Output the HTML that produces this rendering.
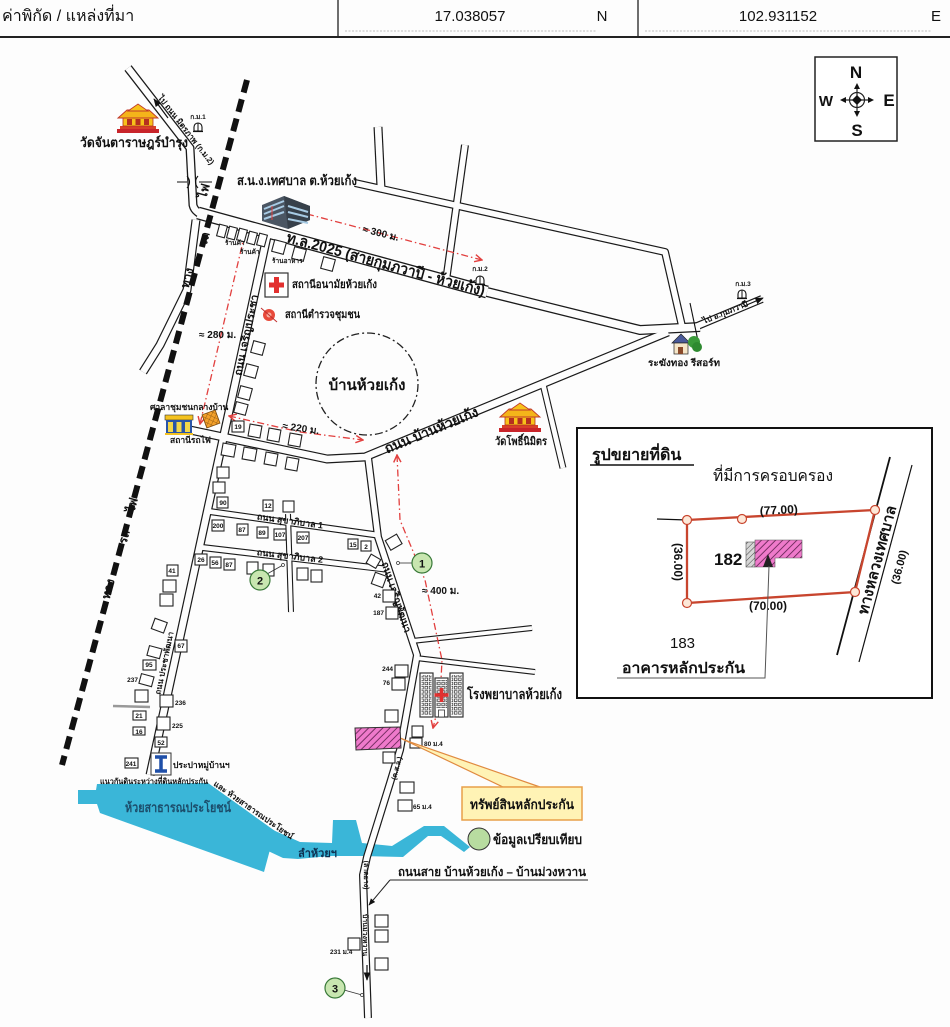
<!DOCTYPE html>
<html><head><meta charset="utf-8">
<style>
html,body{margin:0;padding:0;background:#fdfdfd;}
svg{display:block;}
text{font-family:"Liberation Sans","DejaVu Sans",sans-serif;fill:#111;}
.b{font-weight:bold;}
.h{fill:#fff;stroke:#222;stroke-width:1.1;}
.n{font-size:6.5px;text-anchor:middle;font-weight:bold;}
.rk{fill:none;stroke:#1a1a1a;stroke-linejoin:round;}
.rw{fill:none;stroke:#fdfdfd;stroke-linejoin:round;}
.red{fill:none;stroke:#e2403f;stroke-width:1.3;stroke-dasharray:7,3,1.5,3;}
</style></head><body>
<svg width="950" height="1027" viewBox="0 0 950 1027" xmlns="http://www.w3.org/2000/svg">
<defs>
<marker id="ra" viewBox="0 0 10 10" refX="9" refY="5" markerWidth="7" markerHeight="7" orient="auto-start-reverse"><path d="M1,1 L9,5 L1,9" fill="none" stroke="#e2403f" stroke-width="1.6"/></marker>
<marker id="ba" viewBox="0 0 10 10" refX="9" refY="5" markerWidth="7" markerHeight="7" orient="auto"><path d="M0,1 L10,5 L0,9 Z" fill="#111"/></marker>
<pattern id="pink" patternUnits="userSpaceOnUse" width="5" height="5" patternTransform="rotate(45)"><rect width="5" height="5" fill="#ef7acb"/><line x1="0" y1="0" x2="0" y2="5" stroke="#5a1d4a" stroke-width="1.6"/></pattern>
<pattern id="grey" patternUnits="userSpaceOnUse" width="4" height="4" patternTransform="rotate(45)"><rect width="4" height="4" fill="#d6d6d6"/><line x1="0" y1="0" x2="0" y2="4" stroke="#444" stroke-width="1"/></pattern>
<pattern id="org" patternUnits="userSpaceOnUse" width="4" height="4" patternTransform="rotate(45)"><rect width="4" height="4" fill="#f3a02a"/><line x1="0" y1="0" x2="0" y2="4" stroke="#7a4a10" stroke-width="0.7"/><line x1="0" y1="0" x2="4" y2="0" stroke="#7a4a10" stroke-width="0.7"/></pattern>
<pattern id="win" patternUnits="userSpaceOnUse" width="4.2" height="4.2"><rect x="0.8" y="0.8" width="2.6" height="2.6" fill="none" stroke="#333" stroke-width="0.7"/></pattern>
<g id="temple">
<rect x="0" y="24" width="42" height="4" fill="#c8242a"/>
<rect x="3" y="21" width="36" height="3" fill="#d8402a"/>
<rect x="6" y="12" width="30" height="9" fill="#f7c21a" stroke="#b5301f" stroke-width="0.8"/>
<rect x="10" y="14" width="5" height="6" fill="#b5301f"/><rect x="18.5" y="14" width="5" height="6" fill="#b5301f"/><rect x="27" y="14" width="5" height="6" fill="#b5301f"/>
<polygon points="1,13 10,5 32,5 41,13" fill="#f4b41a" stroke="#c0392b" stroke-width="0.9"/>
<polygon points="11,6 21,-1 31,6" fill="#f7c21a" stroke="#c0392b" stroke-width="0.9"/>
</g>
<g id="km"><path d="M-4,5 L-4,1 A4,4 0 0 1 4,1 L4,5 Z" fill="#fff" stroke="#111" stroke-width="1.1"/><line x1="0" y1="-3" x2="0" y2="5" stroke="#111" stroke-width="1"/><line x1="-5" y1="5.5" x2="5" y2="5.5" stroke="#111" stroke-width="1.2"/></g>
</defs>
<rect width="950" height="1027" fill="#fdfdfd"/>

<!-- header -->
<text x="2" y="21" font-size="16">ค่าพิกัด / แหล่งที่มา</text>
<line x1="338" y1="0" x2="338" y2="37" stroke="#222" stroke-width="1.3"/>
<line x1="638" y1="0" x2="638" y2="37" stroke="#222" stroke-width="1.3"/>
<line x1="0" y1="37" x2="950" y2="37" stroke="#222" stroke-width="2"/>
<text x="470" y="21" font-size="15" text-anchor="middle">17.038057</text>
<text x="602" y="21" font-size="15" text-anchor="middle">N</text>
<line x1="345" y1="31" x2="597" y2="31" stroke="#aaa" stroke-width="0.8" stroke-dasharray="2,1.5"/>
<text x="778" y="21" font-size="15" text-anchor="middle">102.931152</text>
<text x="936" y="21" font-size="15" text-anchor="middle">E</text>
<line x1="645" y1="31" x2="932" y2="31" stroke="#aaa" stroke-width="0.8" stroke-dasharray="2,1.5"/>

<!-- compass -->
<rect x="815" y="57" width="82" height="84" fill="#fff" stroke="#222" stroke-width="1.5"/>
<text x="856" y="78" font-size="17" class="b" text-anchor="middle">N</text>
<text x="857" y="136" font-size="17" class="b" text-anchor="middle">S</text>
<text x="826" y="106" font-size="15" class="b" text-anchor="middle">W</text>
<text x="889" y="106" font-size="17" class="b" text-anchor="middle">E</text>
<circle cx="857" cy="100" r="7.5" fill="none" stroke="#222" stroke-width="1.2"/>
<line x1="843" y1="100" x2="871" y2="100" stroke="#222" stroke-width="1.2"/>
<line x1="857" y1="86" x2="857" y2="114" stroke="#222" stroke-width="1.2"/>
<polygon points="857,83 854,89 860,89" fill="#111"/><polygon points="857,117 854,111 860,111" fill="#111"/>
<polygon points="840,100 846,97 846,103" fill="#111"/><polygon points="874,100 868,97 868,103" fill="#111"/>
<polygon points="857,95 862,100 857,105 852,100" fill="#111"/>

<!-- water -->
<polygon points="78,790 96,790 97,784 208,783 275,831 264,872 100,813 97,804 78,804" fill="#3ab6d8"/>
<polygon points="273,830 300,842 332,843 333,820 356,820 362,843 392,846 424,826 444,826 470,847 464,852 441,836 428,836 403,857 362,856 330,856 298,859 283,858 266,850" fill="#3ab6d8"/>

<!-- roads black -->
<g class="rk">
<path d="M128,68 L190,148 L193,205 Q195,214 210,217" stroke-width="9"/>
<path d="M198,213 L487,292" stroke-width="13"/>
<path d="M487,292 L640,330 L700,327" stroke-width="10"/>
<path d="M355,183 L665,252 L682,326" stroke-width="8"/>
<path d="M378,127 L381,188" stroke-width="9"/>
<path d="M465,145 L446,281" stroke-width="8"/>
<path d="M695,327 L762,299" stroke-width="8"/>
<path d="M190,430 L327,459 L365,457 L668,332" stroke-width="9"/>
<path d="M543,384 L563,468" stroke-width="7"/>
<path d="M196,220 L187,290 L160,345 L143,372" stroke-width="9"/>
<path d="M268,232 L150,775" stroke-width="9"/>
<path d="M368,457 L378,537 L417,655 L400,750 L390,783 L367,857 L363,875 L368,1018" stroke-width="8"/>
<path d="M412,641 L532,628" stroke-width="6"/>
<path d="M416,658 L535,672" stroke-width="6"/>
<path d="M206,511 L377,535" stroke-width="7"/>
<path d="M198,547 L385,569" stroke-width="7"/>
<path d="M288,514 L291,612" stroke-width="6"/>
</g>
<g class="rw">
<path d="M128,68 L190,148 L193,205 Q195,214 210,217" stroke-width="6.4"/>
<path d="M198,213 L487,292" stroke-width="10.4"/>
<path d="M487,292 L640,330 L700,327" stroke-width="7.4"/>
<path d="M355,183 L665,252 L682,326" stroke-width="5.6"/>
<path d="M378,127 L381,188" stroke-width="6.6"/>
<path d="M465,145 L446,281" stroke-width="5.6"/>
<path d="M695,327 L762,299" stroke-width="5.6"/>
<path d="M190,430 L327,459 L365,457 L668,332" stroke-width="6.6"/>
<path d="M543,384 L563,468" stroke-width="4.8"/>
<path d="M196,220 L187,290 L160,345 L143,372" stroke-width="6.6"/>
<path d="M268,232 L150,775" stroke-width="6.6"/>
<path d="M368,457 L378,537 L417,655 L400,750 L390,783 L367,857 L363,875 L368,1018" stroke-width="5.6"/>
<path d="M412,641 L532,628" stroke-width="3.8"/>
<path d="M416,658 L535,672" stroke-width="3.8"/>
<path d="M206,511 L377,535" stroke-width="4.8"/>
<path d="M198,547 L385,569" stroke-width="4.8"/>
<path d="M288,514 L291,612" stroke-width="3.8"/>
</g>
<line x1="113" y1="706" x2="150" y2="707" stroke="#999" stroke-width="2.5"/>
<!-- bridge marks -->
<path d="M177,182 L187,182 M199,182 L212,182 M187,176 Q192,182 187,188 M198,176 Q193,182 198,188" fill="none" stroke="#111" stroke-width="1.1"/>
<path d="M690,303 L698,341" fill="none" stroke="#111" stroke-width="1.1"/>
<!-- road arrows -->
<line x1="168" y1="118" x2="154" y2="99" stroke="#111" stroke-width="1.2" marker-end="url(#ba)"/>
<line x1="742" y1="307" x2="763" y2="298" stroke="#111" stroke-width="1.2" marker-end="url(#ba)"/>
<line x1="367" y1="965" x2="367" y2="980" stroke="#111" stroke-width="1.2" marker-end="url(#ba)"/>

<!-- railway -->
<line x1="247" y1="80" x2="62" y2="765" stroke="#111" stroke-width="6" stroke-dasharray="13,7"/>
<g class="b" font-size="12">
<text transform="translate(208,192) rotate(-75)" text-anchor="middle">ไฟ</text>
<text transform="translate(208,240) rotate(-75)" text-anchor="middle">รถ</text>
<text transform="translate(191,279) rotate(-75)" text-anchor="middle">ทาง</text>
<text transform="translate(136,506) rotate(-75)" text-anchor="middle">ไฟ</text>
<text transform="translate(128,538) rotate(-75)" text-anchor="middle">รถ</text>
<text transform="translate(112,590) rotate(-75)" text-anchor="middle">ทาง</text>
</g>

<!-- village circle -->
<circle cx="367" cy="384" r="51" fill="none" stroke="#222" stroke-width="1.3" stroke-dasharray="8,3,2,3"/>
<text x="367" y="390" font-size="15" class="b" text-anchor="middle">บ้านห้วยเก้ง</text>

<!-- red distance arrows -->
<path class="red" d="M307,214 L482,260" marker-end="url(#ra)"/>
<path class="red" d="M245,233 L200,424" marker-end="url(#ra)"/>
<path class="red" d="M229,416 L300,432 L363,440" marker-start="url(#ra)" marker-end="url(#ra)"/>
<path class="red" d="M397,455 L400,520 L425,580 L442,660 L440,700 L433,728" marker-start="url(#ra)" marker-end="url(#ra)"/>
<text transform="translate(362,232) rotate(14)" font-size="10" class="b">≈ 300 ม.</text>
<text x="199" y="338" font-size="10" class="b">≈ 280 ม.</text>
<text transform="translate(282,429) rotate(8)" font-size="10" class="b">≈ 220 ม.</text>
<text x="422" y="594" font-size="10" class="b">≈ 400 ม.</text>

<!-- temples -->
<use href="#temple" x="117" y="105"/>
<text x="80" y="147" font-size="13" class="b" textLength="108" lengthAdjust="spacingAndGlyphs">วัดจันตาราษฎร์บำรุง</text>
<use href="#temple" x="499" y="404"/>
<text x="495" y="445" font-size="11" class="b" textLength="52" lengthAdjust="spacingAndGlyphs">วัดโพธิ์นิมิตร</text>

<!-- km markers -->
<text x="198" y="119" font-size="6.5" class="b" text-anchor="middle">ก.ม.1</text><use href="#km" x="198" y="126"/>
<text x="480" y="271" font-size="6.5" class="b" text-anchor="middle">ก.ม.2</text><use href="#km" x="480" y="279"/>
<text x="743" y="286" font-size="6.5" class="b" text-anchor="middle">ก.ม.3</text><use href="#km" x="742" y="293"/>

<!-- municipal office -->
<g transform="translate(262,196)">
<polygon points="0,9 22,0 48,10 48,24 26,33 0,25" fill="#4b5663"/>
<polygon points="22,0 48,10 48,24 26,33" fill="#37404a"/>
<path d="M2,13 L22,5 M2,18 L22,10 M2,23 L22,16 M26,10 L46,16 M26,16 L46,21 M26,23 L46,27" stroke="#a8cbe4" stroke-width="2"/>
<line x1="10" y1="10" x2="10" y2="24" stroke="#e2403f" stroke-width="1"/>
</g>
<text x="237" y="185" font-size="13" class="b" textLength="120" lengthAdjust="spacingAndGlyphs">ส.น.ง.เทศบาล ต.ห้วยเก้ง</text>

<!-- road labels -->
<text transform="translate(287,237) rotate(15.3)" y="5" font-size="15" class="b" textLength="205" lengthAdjust="spacingAndGlyphs">ท.ล.2025 (สายกุมภวาปี - ห้วยเก้ง)</text>
<text transform="translate(385,449) rotate(-22.4)" y="5" font-size="14" class="b" textLength="100" lengthAdjust="spacingAndGlyphs">ถนน บ้านห้วยเก้ง</text>
<text transform="translate(160,96) rotate(52)" y="3" font-size="8" class="b">ไป ถนน มิตรภาพ (ก.ม.2)</text>
<text transform="translate(703,321) rotate(-22)" y="3" font-size="8" class="b">ไป อ.กุมภวาปี</text>
<text transform="translate(246,335) rotate(-78)" y="4" font-size="11" class="b" text-anchor="middle">ถนน เจริญประชา</text>
<text transform="translate(164,663) rotate(-78)" y="3" font-size="8" class="b" text-anchor="middle">ถนน ประชาพัฒนา</text>
<text transform="translate(397,597) rotate(71.7)" y="4" font-size="10" class="b" text-anchor="middle">ถนน เจริญพัฒนา</text>
<text transform="translate(396,768) rotate(-75)" y="3" font-size="7" class="b" text-anchor="middle">(ค.ส.ล.)</text>
<text transform="translate(367,875) rotate(90)" y="3" font-size="7" class="b" text-anchor="middle">(ลาดยาง)</text>
<text transform="translate(366,935) rotate(90)" y="3" font-size="7" class="b" text-anchor="middle">บ้านม่วงหวาน</text>
<text transform="translate(290,521) rotate(8)" y="3" font-size="9" class="b" text-anchor="middle">ถนน สุขาภิบาล 1</text>
<text transform="translate(290,556) rotate(6.6)" y="3" font-size="9" class="b" text-anchor="middle">ถนน สุขาภิบาล 2</text>

<!-- shops/houses -->
<g>
<rect class="h" x="218" y="225" width="8" height="12" transform="rotate(15 222 231)"/>
<rect class="h" x="228" y="227" width="8" height="12" transform="rotate(15 232 233)"/>
<rect class="h" x="238" y="229" width="8" height="12" transform="rotate(15 242 235)"/>
<rect class="h" x="248" y="232" width="8" height="12" transform="rotate(15 252 238)"/>
<rect class="h" x="258" y="234" width="8" height="12" transform="rotate(15 262 240)"/>
<rect class="h" x="273" y="241" width="12" height="12" transform="rotate(15 279 247)"/>
<rect class="h" x="293" y="248" width="12" height="12" transform="rotate(15 299 254)"/>
<rect class="h" x="322" y="258" width="12" height="12" transform="rotate(15 328 264)"/>
<rect class="h" x="252" y="342" width="12" height="12" transform="rotate(15 258 348)"/>
<rect class="h" x="245" y="365" width="12" height="12" transform="rotate(15 251 371)"/>
<rect class="h" x="239" y="387" width="12" height="12" transform="rotate(15 245 393)"/>
<rect class="h" x="235" y="403" width="12" height="11" transform="rotate(15 241 408)"/>
<rect class="h" x="232" y="421" width="12" height="11"/>
<rect class="h" x="249" y="425" width="12" height="12" transform="rotate(10 255 431)"/>
<rect class="h" x="268" y="429" width="12" height="12" transform="rotate(10 274 435)"/>
<rect class="h" x="289" y="434" width="12" height="12" transform="rotate(10 295 440)"/>
<rect class="h" x="222" y="444" width="13" height="12" transform="rotate(10 228 450)"/>
<rect class="h" x="243" y="448" width="13" height="12" transform="rotate(10 249 454)"/>
<rect class="h" x="265" y="453" width="12" height="12" transform="rotate(10 271 459)"/>
<rect class="h" x="286" y="458" width="12" height="12" transform="rotate(10 292 464)"/>
<rect class="h" x="217" y="467" width="12" height="11"/>
<rect class="h" x="213" y="482" width="12" height="11"/>
<rect class="h" x="217" y="497" width="11" height="11"/>
<rect class="h" x="263" y="500" width="10" height="11"/>
<rect class="h" x="283" y="501" width="11" height="11"/>
<rect class="h" x="212" y="520" width="12" height="11"/>
<rect class="h" x="237" y="524" width="11" height="11"/>
<rect class="h" x="257" y="527" width="11" height="11"/>
<rect class="h" x="274" y="529" width="12" height="11"/>
<rect class="h" x="297" y="532" width="12" height="11"/>
<rect class="h" x="195" y="554" width="12" height="11"/>
<rect class="h" x="210" y="557" width="11" height="11"/>
<rect class="h" x="224" y="559" width="11" height="11"/>
<rect class="h" x="247" y="562" width="11" height="12"/>
<rect class="h" x="263" y="564" width="11" height="12"/>
<rect class="h" x="297" y="568" width="11" height="12"/>
<rect class="h" x="311" y="570" width="11" height="12"/>
<rect class="h" x="348" y="539" width="10" height="10"/>
<rect class="h" x="361" y="541" width="10" height="10"/>
<rect class="h" x="368" y="556" width="11" height="10" transform="rotate(30 373 561)"/>
<rect class="h" x="387" y="537" width="13" height="11" transform="rotate(-30 393 542)"/>
<rect class="h" x="373" y="574" width="12" height="12" transform="rotate(20 379 580)"/>
<rect class="h" x="383" y="590" width="12" height="12"/>
<rect class="h" x="386" y="607" width="12" height="12"/>
<rect class="h" x="167" y="565" width="11" height="11"/>
<rect class="h" x="163" y="580" width="13" height="12"/>
<rect class="h" x="160" y="594" width="13" height="12"/>
<rect class="h" x="153" y="620" width="13" height="11" transform="rotate(20 159 625)"/>
<rect class="h" x="175" y="640" width="12" height="12"/>
<rect class="h" x="148" y="647" width="13" height="10" transform="rotate(15 154 652)"/>
<rect class="h" x="143" y="660" width="13" height="10"/>
<rect class="h" x="140" y="675" width="13" height="10" transform="rotate(15 146 680)"/>
<rect class="h" x="135" y="690" width="13" height="12"/>
<rect class="h" x="160" y="695" width="13" height="12"/>
<rect class="h" x="133" y="711" width="13" height="9"/>
<rect class="h" x="157" y="717" width="13" height="13"/>
<rect class="h" x="133" y="727" width="12" height="8"/>
<rect class="h" x="155" y="737" width="12" height="10"/>
<rect class="h" x="125" y="758" width="13" height="10"/>
<rect class="h" x="395" y="665" width="13" height="12"/>
<rect class="h" x="392" y="678" width="13" height="12"/>
<rect class="h" x="385" y="710" width="13" height="12"/>
<rect class="h" x="412" y="726" width="11" height="11"/>
<rect class="h" x="410" y="738" width="12" height="10"/>
<rect class="h" x="383" y="752" width="12" height="11"/>
<rect class="h" x="400" y="782" width="14" height="11"/>
<rect class="h" x="398" y="800" width="14" height="11"/>
<rect class="h" x="375" y="915" width="13" height="12"/>
<rect class="h" x="375" y="930" width="13" height="12"/>
<rect class="h" x="348" y="938" width="12" height="12"/>
<rect class="h" x="375" y="958" width="13" height="12"/>
</g>
<g class="n">
<text x="238" y="429">19</text><text x="223" y="505">90</text><text x="268" y="508">12</text>
<text x="218" y="528">200</text><text x="242" y="532">87</text><text x="262" y="535">89</text><text x="280" y="537">107</text><text x="303" y="540">207</text>
<text x="201" y="562">26</text><text x="215" y="565">56</text><text x="229" y="567">87</text>
<text x="353" y="547">15</text><text x="366" y="549">2</text>
<text x="172" y="573">41</text><text x="181" y="648">67</text><text x="149" y="667">95</text>
<text x="139" y="718">21</text><text x="139" y="734">16</text><text x="161" y="745">52</text><text x="131" y="766">241</text>
</g>
<g font-size="6.5" class="b">
<text x="225" y="245">ร้านค้า</text><text x="240" y="254">ร้านค้า</text><text x="272" y="263">ร้านอาหาร</text>
<text x="393" y="671" text-anchor="end">244</text><text x="390" y="685" text-anchor="end">76</text>
<text x="381" y="598" text-anchor="end">42</text><text x="384" y="615" text-anchor="end">187</text>
<text x="424" y="746">80 ม.4</text><text x="413" y="809">65 ม.4</text>
<text x="138" y="682" text-anchor="end">237</text><text x="175" y="705">236</text><text x="172" y="728">225</text>
<text x="330" y="954">231 ม.4</text>
</g>

<!-- health station & police -->
<rect x="265" y="273" width="23" height="24" fill="#fff" stroke="#333" stroke-width="1.2"/>
<path d="M276.5,277 L276.5,293 M269,285 L284,285" stroke="#e2302f" stroke-width="5"/>
<text x="292" y="288" font-size="11" class="b" textLength="85" lengthAdjust="spacingAndGlyphs">สถานีอนามัยห้วยเก้ง</text>
<circle cx="269" cy="315" r="6" fill="#e84a3a"/><circle cx="269" cy="315" r="2.5" fill="#f7b0a0"/>
<line x1="261" y1="308" x2="277" y2="322" stroke="#c0302f" stroke-width="1"/>
<text x="285" y="318" font-size="11" class="b" textLength="75" lengthAdjust="spacingAndGlyphs">สถานีตำรวจชุมชน</text>

<!-- sala & station -->
<rect x="204" y="412" width="14" height="14" fill="url(#org)" stroke="#7a4a10" stroke-width="0.8" transform="rotate(-20 211 419)"/>
<text x="150" y="410" font-size="8.5" class="b">ศาลาชุมชนกลางบ้าน</text>
<rect x="165" y="415" width="28" height="5" fill="#f4c21f" stroke="#333" stroke-width="0.6"/>
<rect x="166" y="420" width="26" height="13" fill="#2a55a8"/>
<rect x="168" y="422" width="5" height="10" fill="#f4d84a"/><rect x="176.5" y="422" width="5" height="10" fill="#f4d84a"/><rect x="185" y="422" width="5" height="10" fill="#f4d84a"/>
<rect x="165" y="433" width="28" height="2" fill="#f4c21f"/>
<text x="170" y="443" font-size="8.5" class="b">สถานีรถไฟ</text>

<!-- resort -->
<polygon points="672,343 681,334 690,343" fill="#4a5a9a" stroke="#222" stroke-width="0.7"/>
<rect x="674" y="343" width="14" height="11" fill="#f6e6c8" stroke="#222" stroke-width="0.7"/>
<rect x="678" y="347" width="5" height="7" fill="#8a4a2a"/>
<circle cx="694" cy="342" r="6" fill="#3a9a3a"/><circle cx="697" cy="347" r="5" fill="#2e8a30"/>
<text x="648" y="366" font-size="9.5" class="b" textLength="72" lengthAdjust="spacingAndGlyphs">ระฆังทอง รีสอร์ท</text>

<!-- hospital -->
<g transform="translate(420,673)">
<rect x="0" y="0" width="13" height="44" fill="#fff" stroke="#333" stroke-width="1.2"/>
<rect x="1.5" y="2" width="10" height="40" fill="url(#win)"/>
<rect x="15" y="5" width="13" height="39" fill="#fff" stroke="#333" stroke-width="1.2"/>
<rect x="16" y="7" width="11" height="28" fill="url(#win)"/>
<rect x="18.5" y="37" width="6" height="7" fill="#fff" stroke="#333" stroke-width="0.8"/>
<rect x="30" y="0" width="13" height="44" fill="#fff" stroke="#333" stroke-width="1.2"/>
<rect x="31.5" y="2" width="10" height="40" fill="url(#win)"/>
<path d="M21.5,15 L21.5,29 M14.5,22 L28.5,22" stroke="#e2302f" stroke-width="3.5"/>
</g>
<text x="467" y="699" font-size="14" class="b" textLength="95" lengthAdjust="spacingAndGlyphs">โรงพยาบาลห้วยเก้ง</text>

<!-- collateral -->
<polygon points="398,737 503,787 540,787 410,742" fill="#fff3b5" stroke="#e08a40" stroke-width="1.2"/>
<polygon points="355,728 400,727 401,748 356,750" fill="url(#pink)" stroke="#333" stroke-width="1"/>
<rect x="462" y="787" width="120" height="33" fill="#fff3b5" stroke="#e8a04a" stroke-width="1.5"/>
<text x="522" y="809" font-size="13" class="b" text-anchor="middle" textLength="104" lengthAdjust="spacingAndGlyphs">ทรัพย์สินหลักประกัน</text>

<!-- comparison markers -->
<line x1="398" y1="563" x2="412" y2="563" stroke="#333" stroke-width="0.8"/><circle cx="398" cy="563" r="1.5" fill="#fff" stroke="#333" stroke-width="0.7"/>
<circle cx="422" cy="563" r="10" fill="#c8e6b0" stroke="#3a7a3a" stroke-width="1.2"/><text x="422" y="567.5" font-size="11" class="b" text-anchor="middle">1</text>
<line x1="283" y1="565" x2="267" y2="574" stroke="#333" stroke-width="0.8"/><circle cx="283" cy="565" r="1.5" fill="#fff" stroke="#333" stroke-width="0.7"/>
<circle cx="260" cy="580" r="10" fill="#c8e6b0" stroke="#3a7a3a" stroke-width="1.2"/><text x="260" y="584.5" font-size="11" class="b" text-anchor="middle">2</text>
<line x1="362" y1="995" x2="344" y2="990" stroke="#333" stroke-width="0.8"/><circle cx="362" cy="995" r="1.5" fill="#fff" stroke="#333" stroke-width="0.7"/>
<circle cx="335" cy="988" r="10" fill="#c8e6b0" stroke="#3a7a3a" stroke-width="1.2"/><text x="335" y="992.5" font-size="11" class="b" text-anchor="middle">3</text>
<circle cx="479" cy="839" r="11" fill="#b8dca0" stroke="#333" stroke-width="1"/>
<text x="493" y="844" font-size="13" class="b" textLength="89" lengthAdjust="spacingAndGlyphs">ข้อมูลเปรียบเทียบ</text>

<!-- water labels & tap -->
<text x="100" y="784" font-size="8" class="b" textLength="108" lengthAdjust="spacingAndGlyphs">แนวกันดินระหว่างที่ดินหลักประกัน</text>
<text transform="translate(213,785) rotate(35)" font-size="8" class="b">และ ห้วยสาธารณประโยชน์</text>
<text x="125" y="812" font-size="13" class="b" style="fill:#1c4d6b" textLength="106" lengthAdjust="spacingAndGlyphs">ห้วยสาธารณประโยชน์</text>
<text x="298" y="857" font-size="11" class="b" style="fill:#0f3050">ลำห้วยฯ</text>
<rect x="151" y="753" width="20" height="22" fill="#fff" stroke="#333" stroke-width="1"/>
<path d="M155,757 L167,757 M161,757 L161,771 M155,771 L167,771" stroke="#1f4fa8" stroke-width="3.5"/>
<text x="173" y="768" font-size="8.5" class="b">ประปาหมู่บ้านฯ</text>

<!-- bottom road label -->
<text x="398" y="876" font-size="12" class="b" textLength="188" lengthAdjust="spacingAndGlyphs">ถนนสาย บ้านห้วยเก้ง – บ้านม่วงหวาน</text>
<line x1="390" y1="880" x2="588" y2="880" stroke="#222" stroke-width="1"/>
<line x1="390" y1="880" x2="369" y2="905" stroke="#222" stroke-width="1" marker-end="url(#ba)"/>

<!-- inset -->
<rect x="577" y="428" width="355" height="270" fill="#fff" stroke="#111" stroke-width="2"/>
<text x="592" y="460" font-size="16" class="b">รูปขยายที่ดิน</text>
<line x1="590" y1="465" x2="694" y2="465" stroke="#111" stroke-width="1.5"/>
<text x="713" y="481" font-size="16" textLength="120" lengthAdjust="spacingAndGlyphs">ที่มีการครอบครอง</text>
<line x1="890" y1="457" x2="837" y2="655" stroke="#111" stroke-width="1.8"/>
<line x1="912" y1="465" x2="859" y2="662" stroke="#111" stroke-width="1.2"/>
<line x1="657" y1="519" x2="687" y2="520" stroke="#111" stroke-width="1.2"/>
<polygon points="687,520 875,510 855,592 687,603" fill="none" stroke="#c8452e" stroke-width="2.3"/>
<g fill="#fde8d8" stroke="#c8452e" stroke-width="1.2">
<circle cx="687" cy="520" r="4.5"/><circle cx="742" cy="519" r="4.5"/><circle cx="875" cy="510" r="4.5"/><circle cx="855" cy="592" r="4.5"/><circle cx="687" cy="603" r="4.5"/>
</g>
<text transform="translate(779,514) rotate(-3)" font-size="12" class="b" text-anchor="middle">(77.00)</text>
<text x="768" y="610" font-size="12" class="b" text-anchor="middle">(70.00)</text>
<text transform="translate(674,562) rotate(90)" font-size="12" class="b" text-anchor="middle">(36.00)</text>
<text x="714" y="565" font-size="17" class="b">182</text>
<rect x="746" y="542" width="9" height="25" fill="url(#grey)" stroke="#555" stroke-width="0.6"/>
<path d="M755,540 L802,540 L802,558 L775,558 L775,567 L755,567 Z" fill="url(#pink)" stroke="#555" stroke-width="0.6"/>
<polygon points="768,554 763,567 773,567" fill="#222"/>
<polyline points="769,566 765,678 617,678" fill="none" stroke="#555" stroke-width="1"/>
<text x="670" y="648" font-size="15">183</text>
<text x="622" y="673" font-size="15" class="b" textLength="123" lengthAdjust="spacingAndGlyphs">อาคารหลักประกัน</text>
<text transform="translate(877,560) rotate(-75)" y="5" font-size="15" class="b" text-anchor="middle">ทางหลวงเทศบาล</text>
<text transform="translate(899,567) rotate(-75)" y="4" font-size="11" class="b" text-anchor="middle">(36.00)</text>
</svg>
</body></html>
